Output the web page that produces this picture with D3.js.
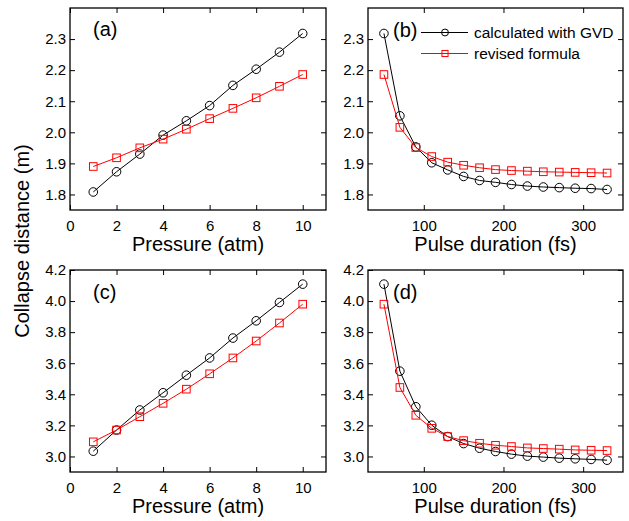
<!DOCTYPE html>
<html><head><meta charset="utf-8">
<script src="https://cdn.jsdelivr.net/npm/d3@7"></script>
<style>body{margin:0;background:#fff}svg{display:block}text{font-family:"Liberation Sans",Arial,sans-serif;fill:#000}</style>
</head><body>
<svg id="c" width="629" height="521"></svg>
<script>
const pressure = [1,2,3,4,5,6,7,8,9,10];
const duration = [50,70,90,110,130,150,170,190,210,230,250,270,290,310,330];
const aGVD = [1.808,1.873,1.930,1.991,2.037,2.086,2.151,2.203,2.258,2.318];
const aRev = [1.890,1.918,1.950,1.978,2.010,2.044,2.077,2.111,2.148,2.186];
const bGVD = [2.318,2.053,1.953,1.902,1.879,1.858,1.845,1.839,1.832,1.827,1.824,1.822,1.820,1.819,1.816];
const bRev = [2.186,2.016,1.951,1.922,1.904,1.894,1.886,1.880,1.877,1.875,1.873,1.872,1.871,1.870,1.869];
const cGVD = [3.034,3.170,3.299,3.410,3.523,3.634,3.762,3.873,3.991,4.109];
const cRev = [3.094,3.170,3.256,3.342,3.433,3.532,3.634,3.743,3.859,3.980];
const dGVD = [4.109,3.549,3.320,3.201,3.128,3.083,3.053,3.032,3.015,3.002,2.996,2.989,2.985,2.981,2.976];
const dRev = [3.980,3.444,3.265,3.181,3.128,3.102,3.085,3.072,3.064,3.055,3.051,3.047,3.042,3.040,3.038];
const pressureTicks = [0,2,4,6,8,10];
const durationTicks = [100,200,300];
const yTicksTop = [1.8,1.9,2.0,2.1,2.2,2.3];
const yTicksBot = [3.0,3.2,3.4,3.6,3.8,4.0,4.2];
const seriesNames = ["calculated with GVD","revised formula"];
const colors = ["#000000","#ff0000"];

const svg = d3.select("#c");
const panels = [
  {id:"(a)", x:pressure, s:[aGVD,aRev], xd:[0,11], yd:[1.75,2.4], xt:pressureTicks, yt:yTicksTop, l:70, r:326, t:8, b:210, xl:"Pressure (atm)", lab:[93,29]},
  {id:"(b)", x:duration, s:[bGVD,bRev], xd:[30,350], yd:[1.75,2.4], xt:durationTicks, yt:yTicksTop, l:368, r:623, t:8, b:210, xl:"Pulse duration (fs)", lab:[393,30], legend:true},
  {id:"(c)", x:pressure, s:[cGVD,cRev], xd:[0,11], yd:[2.9,4.2], xt:pressureTicks, yt:yTicksBot, l:70, r:326, t:270, b:472, xl:"Pressure (atm)", lab:[93,292]},
  {id:"(d)", x:duration, s:[dGVD,dRev], xd:[30,350], yd:[2.9,4.2], xt:durationTicks, yt:yTicksBot, l:368, r:623, t:270, b:472, xl:"Pulse duration (fs)", lab:[393,292]}
];

function marker(g, type, cx, cy, col, sc){
  sc = sc || 1;
  if(type===0){
    g.append("circle").attr("cx",cx).attr("cy",cy).attr("r",4.3*sc).attr("fill","none").attr("stroke",col).attr("stroke-width",1);
  } else {
    const h = 3.8*sc;
    g.append("rect").attr("x",cx-h).attr("y",cy-h).attr("width",2*h).attr("height",2*h).attr("fill","none").attr("stroke",col).attr("stroke-width",1);
  }
}

panels.forEach(p=>{
  const x = d3.scaleLinear().domain(p.xd).range([p.l,p.r]);
  const y = d3.scaleLinear().domain(p.yd).range([p.b,p.t]);
  const g = svg.append("g");
  const fmtY = d3.format(".1f");
  const ax = [
    [d3.axisBottom(x).tickValues(p.xt).tickSize(-5).tickPadding(10).tickFormat(d3.format("d")), `translate(0,${p.b})`],
    [d3.axisTop(x).tickValues(p.xt).tickSize(-5).tickFormat(""), `translate(0,${p.t})`],
    [d3.axisLeft(y).tickValues(p.yt).tickSize(-5).tickPadding(4).tickFormat(fmtY), `translate(${p.l},0)`],
    [d3.axisRight(y).tickValues(p.yt).tickSize(-5).tickFormat(""), `translate(${p.r},0)`]
  ];
  ax.forEach(([a,tr])=>{
    const ag = g.append("g").attr("transform",tr).call(a);
    ag.select(".domain").remove();
    ag.selectAll("line").attr("stroke","#000").attr("stroke-width",1);
    ag.selectAll("text").attr("font-size",15).attr("font-family","Liberation Sans, Arial, sans-serif").attr("fill","#000");
  });
  g.append("rect").attr("x",p.l).attr("y",p.t).attr("width",p.r-p.l).attr("height",p.b-p.t)
    .attr("fill","none").attr("stroke","#000").attr("stroke-width",1.3);
  p.s.forEach((vals,si)=>{
    const line = d3.line().x((d,i)=>x(p.x[i])).y(d=>y(d));
    g.append("path").datum(vals).attr("d",line).attr("fill","none").attr("stroke",colors[si]).attr("stroke-width",1);
    vals.forEach((v,i)=>marker(g,si,x(p.x[i]),y(v),colors[si]));
  });
  g.append("text").attr("x",p.lab[0]).attr("y",p.lab[1]).attr("dy","0.35em").attr("font-size",20).text(p.id);
  g.append("text").attr("x",(p.l+p.r)/2).attr("y",p.b+41).attr("text-anchor","middle").attr("font-size",20).text(p.xl);
  if(p.legend){
    seriesNames.forEach((n,i)=>{
      const ly = 32.5 + i*21;
      g.append("line").attr("x1",421).attr("x2",468).attr("y1",ly).attr("y2",ly).attr("stroke",colors[i]).attr("stroke-width",1);
      marker(g,i,445,ly,colors[i],0.8);
      g.append("text").attr("x",474).attr("y",ly).attr("dy","0.35em").attr("font-size",15.5).text(n);
    });
  }
});
svg.append("text").attr("transform","translate(29,241) rotate(-90)").attr("text-anchor","middle").attr("font-size",20).text("Collapse distance (m)");
</script>
</body></html>
